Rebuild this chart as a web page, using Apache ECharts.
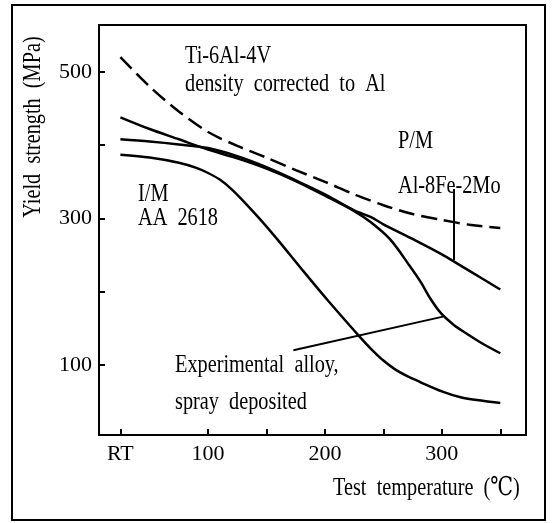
<!DOCTYPE html>
<html>
<head>
<meta charset="utf-8">
<title>Yield strength vs test temperature</title>
<script src="https://cdn.jsdelivr.net/npm/echarts@6/dist/echarts.min.js"></script>
<style>
  html, body { margin: 0; padding: 0; background: #fff; }
  #main { width: 553px; height: 523px; }
</style>
</head>
<body>
<div id="main"></div>
<script>
// ---- data (x = test temperature °C, RT taken as 25) ----
var tiTemp = [25, 50, 75, 100, 125, 150, 175, 200, 225, 250, 275, 300, 325, 350];
var tiStrength = [520, 480, 446, 418, 399, 383, 366, 350, 333, 318, 306, 298, 291, 287];

var pmTemp = [25, 50, 75, 100, 125, 150, 175, 200, 225, 239, 250, 275, 300, 325, 350];
var pmStrength = [408, 405, 401, 396, 385, 370, 352, 333, 311, 302, 292, 272, 251, 227, 203];

var sprayTemp = [25, 50, 75, 100, 125, 150, 175, 200, 225, 239, 256, 273, 282, 290, 299, 310, 321, 335, 350];
var sprayStrength = [438, 422, 408, 394, 382, 368, 351, 331, 310, 295, 271, 234, 213, 191, 171, 155, 143, 129, 116];

var imTemp = [25, 50, 75, 90, 100, 110, 120, 130, 145, 160, 180, 202, 230, 240, 250, 260, 270, 281, 300, 316, 335, 350];
var imStrength = [387, 383, 376, 369, 362, 353, 340, 324, 298, 270, 231, 189, 138, 121, 106, 94, 85, 77, 64, 56, 51, 48];

// leader lines from the labels to the curves [temp, strength]
var sprayLeader = [[173, 120], [301, 166]];
var pmLeader = [[310, 340], [310, 243]];

// axis ticks / labels
var xTicks = [25, 100, 150, 200, 250, 300, 350];
var xLabels = [25, 100, 200, 300];
var yTicks = [100, 200, 300, 400, 500];
var yLabels = [100, 300, 500];

function pairs(xs, ys) {
  var out = [];
  for (var i = 0; i < xs.length; i++) out.push([xs[i], ys[i]]);
  return out;
}

var serif = '"Liberation Serif", "DejaVu Serif", serif';
var squeeze = 0.78;   // the printed type is narrow

function label(text, x, y, extra) {
  var el = {
    type: 'text',
    x: x,
    y: y,
    scaleX: squeeze,
    silent: true,
    style: {
      text: text,
      fontSize: 26,
      fontFamily: serif,
      fill: '#000',
      align: 'left',
      verticalAlign: 'middle'
    }
  };
  if (extra) {
    for (var k in extra) {
      if (k === 'align') el.style.align = extra[k];
      else el[k] = extra[k];
    }
  }
  return el;
}

var lineStyle = { color: '#000', width: 2.5 };

function curve(name, xs, ys, style) {
  return {
    name: name,
    type: 'line',
    smooth: 0.3,
    showSymbol: false,
    lineStyle: style,
    data: pairs(xs, ys)
  };
}

function leader(points) {
  return {
    silent: true,
    symbol: 'none',
    label: { show: false },
    lineStyle: { color: '#000', width: 2, type: 'solid' },
    data: [[{ coord: points[0] }, { coord: points[1] }]]
  };
}

var pmSeries = curve('P/M Al-8Fe-2Mo', pmTemp, pmStrength, lineStyle);
pmSeries.markLine = leader(pmLeader);
var spraySeries = curve('Experimental alloy, spray deposited', sprayTemp, sprayStrength, lineStyle);
spraySeries.markLine = leader(sprayLeader);

var chart = echarts.init(document.getElementById('main'));
chart.setOption({
  animation: false,
  backgroundColor: '#fff',
  grid: {
    left: 99,
    top: 25,
    right: 27,
    bottom: 88,
    show: true,
    borderColor: '#000',
    borderWidth: 2
  },
  xAxis: {
    type: 'value',
    min: 6.7,
    max: 372,
    axisLine: { show: true, lineStyle: { color: '#000', width: 2 } },
    axisTick: { show: true, inside: true, length: 6, customValues: xTicks, lineStyle: { color: '#000', width: 2 } },
    axisLabel: {
      customValues: xLabels,
      margin: 8,
      color: '#000',
      fontSize: 22,
      fontFamily: serif,
      formatter: function (v) { return v === 25 ? 'RT' : String(v); }
    },
    splitLine: { show: false }
  },
  yAxis: {
    type: 'value',
    min: 4.4,
    max: 564,
    axisLine: { show: true, lineStyle: { color: '#000', width: 2 } },
    axisTick: { show: true, inside: true, length: 6, customValues: yTicks, lineStyle: { color: '#000', width: 2 } },
    axisLabel: {
      customValues: yLabels,
      margin: 7,
      color: '#000',
      fontSize: 22,
      fontFamily: serif
    },
    splitLine: { show: false }
  },
  series: [
    curve('Ti-6Al-4V', tiTemp, tiStrength, { color: '#000', width: 2.5, type: [16, 7] }),
    pmSeries,
    spraySeries,
    curve('I/M AA 2618', imTemp, imStrength, lineStyle)
  ],
  graphic: [
    // outer frame
    {
      type: 'rect',
      silent: true,
      shape: { x: 12, y: 5, width: 533, height: 515 },
      style: { fill: 'none', stroke: '#000', lineWidth: 2 }
    },
    label('Ti-6Al-4V', 185, 56),
    label('density  corrected  to  Al', 185, 84),
    label('P/M', 398, 141),
    label('Al-8Fe-2Mo', 398, 186),
    label('I/M', 138, 194),
    label('AA  2618', 138, 218),
    label('Experimental  alloy,', 175, 365),
    label('spray  deposited', 175, 402),
    label('Test  temperature  (℃)', 333, 488),
    label('Yield  strength  (MPa)', 33, 127, { rotation: Math.PI / 2, align: 'center' })
  ]
});
</script>
</body>
</html>
